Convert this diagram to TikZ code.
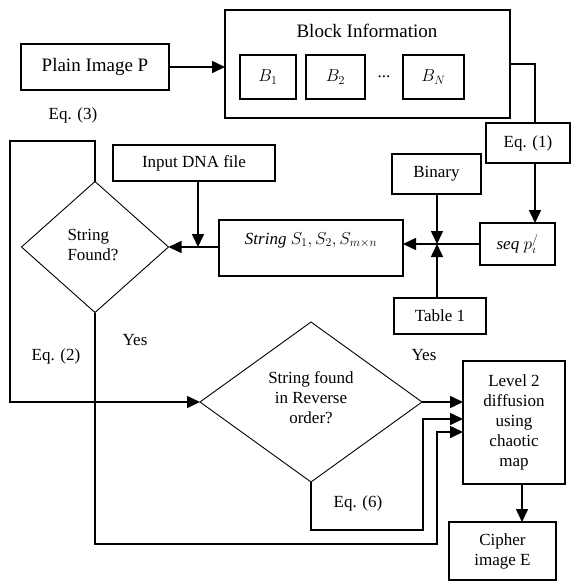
\documentclass[tikz,border=0pt]{standalone}
\usepackage{fontspec}
\setmainfont{Liberation Serif}
\usetikzlibrary{arrows.meta,shapes.geometric}
\begin{document}
\begin{tikzpicture}[x=1pt,y=-1pt,
  every node/.style={font=\fontsize{17}{20}\selectfont, inner sep=0pt, outer sep=0pt},
  bigtext/.style={font=\fontsize{19}{22}\selectfont},
  boxnode/.style={draw, line width=1.6pt, rectangle, align=center},
  dia/.style={draw, line width=0.9pt, diamond, inner sep=0pt, align=center},
  conn/.style={line width=1.6pt},
  arr/.style={conn, -{Triangle[length=13pt,width=12pt]}},
  lbl/.style={}
]
\useasboundingbox (0,0) rectangle (571,581);
% boxes
\node[boxnode, bigtext, minimum width=148pt, minimum height=46pt] (plain) at (95,67) {Plain Image P};
\node[boxnode, minimum width=285pt, minimum height=108pt] (block) at (367.5,64) {};
\node[bigtext] (blocktitle) at (367,31) {Block Information};
\node[boxnode, minimum width=56pt, minimum height=44pt] (b1) at (268,77) {$B_1$};
\node[boxnode, minimum width=59pt, minimum height=44pt] (b2) at (335.5,77) {$B_2$};
\node (dots) at (384,77) {...};
\node[boxnode, minimum width=61pt, minimum height=44pt] (bn) at (433.5,77) {$B_N$};
\node[boxnode, minimum width=84pt, minimum height=40pt] (eq1) at (528,143) {Eq. (1)};
\node[boxnode, minimum width=75pt, minimum height=42pt] (seq) at (517.5,244) {$\mathit{seq}\ p_{\imath}^{/}$};
\node[boxnode, minimum width=89pt, minimum height=40pt] (binary) at (436.5,174) {Binary};
\node[boxnode, minimum width=92pt, minimum height=36pt] (table) at (440,316) {Table 1};
\node[boxnode, minimum width=184pt, minimum height=56pt] (string) at (311,248) {};
\node (stringtext) at (311,240) {$\mathit{String}\ S_1, S_2, S_{m\times n}$};
\node[boxnode, minimum width=162pt, minimum height=36pt] (dna) at (194,163) {Input DNA file};
\node[dia, minimum width=147pt, minimum height=131pt] (d1) at (95,247) {};
\node[align=left] (d1text) at (93,245) {String\\Found?};
\node[dia, minimum width=222pt, minimum height=160pt] (d2) at (311,402) {};
\node[align=center] (d2text) at (311,398) {String found\\in Reverse\\order?};
\node[boxnode, minimum width=102pt, minimum height=123pt] (level) at (514,422.5) {Level 2\\diffusion\\using\\chaotic\\map};
\node[boxnode, minimum width=107pt, minimum height=58pt] (cipher) at (502.5,551) {Cipher\\image E};
% labels
\node[lbl] (eq3) at (73,115) {Eq. (3)};
\node[lbl] (eq2) at (56,356) {Eq. (2)};
\node[lbl] (yes1) at (135,340) {Yes};
\node[lbl] (yes2) at (424,355) {Yes};
\node[lbl] (eq6) at (358,503) {Eq. (6)};
% coordinates
\coordinate (J) at (437,244);
\coordinate (lt) at (10,141);
\coordinate (c1) at (437,544);
\coordinate (c2) at (423,530);
% connectors
\draw[arr] (plain.east) -- (plain.east -| block.west);
\draw[conn] (block.east) -| ([xshift=7pt]eq1.north);
\draw[arr] ([xshift=7pt]eq1.south) -- ([xshift=7pt]eq1.south |- seq.north);
\draw[arr] (seq.west) -- (seq.west -| string.east);
\draw[arr] (J |- binary.south) -- (J);
\draw[arr] (J |- table.north) -- (J);
\draw[arr] (d1.east -| string.west) -- (d1.east);
\draw[arr] ([xshift=4pt]dna.south) -- ([xshift=4pt]dna.south |- d1.east);
\draw[arr] (d1.north) |- (lt) |- (d2.west);
\draw[arr] (d1.south) |- (c1) |- ([yshift=-9.5pt]level.west);
\draw[arr] (d2.east) -- (d2.east -| level.west);
\draw[arr] (d2.south) |- (c2) |- ([yshift=3.5pt]level.west);
\draw[arr] ([xshift=8pt]level.south) -- ([xshift=8pt]level.south |- cipher.north);
\end{tikzpicture}
\end{document}
